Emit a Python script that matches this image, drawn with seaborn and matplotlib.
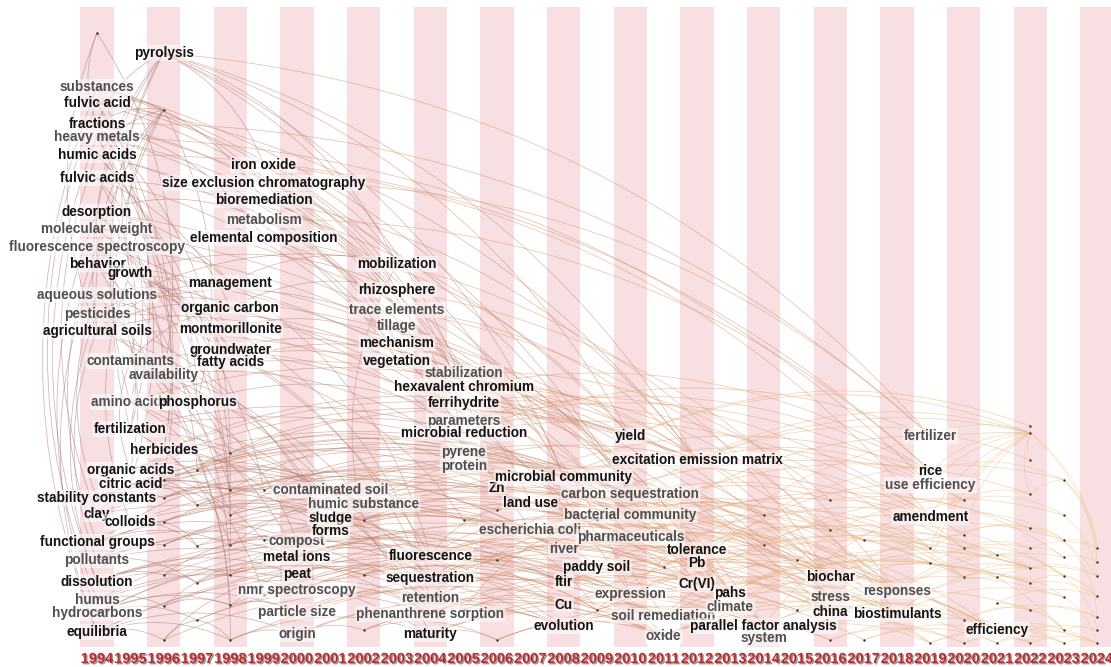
import matplotlib
matplotlib.use("Agg")
import matplotlib.pyplot as plt
from matplotlib import patheffects
import seaborn as sns
import pandas as pd

# timeline columns
years = list(range(1994, 2025))

# labelled keywords: text, year column, vertical position (px from top), dark (1) or grey (0)
kw_labels = [
    "substances", "fulvic acid", "fractions", "heavy metals", "humic acids",
    "fulvic acids", "desorption", "molecular weight", "fluorescence spectroscopy", "behavior",
    "aqueous solutions", "pesticides", "agricultural soils", "stability constants", "clay",
    "functional groups", "pollutants", "dissolution", "humus", "hydrocarbons",
    "equilibria", "growth", "contaminants", "amino acids", "fertilization",
    "organic acids", "citric acid", "colloids", "pyrolysis", "availability",
    "herbicides", "phosphorus", "management", "organic carbon", "montmorillonite",
    "groundwater", "fatty acids", "iron oxide", "size exclusion chromatography", "bioremediation",
    "metabolism", "elemental composition", "compost", "metal ions", "peat",
    "nmr spectroscopy", "particle size", "origin", "contaminated soil", "sludge",
    "forms", "humic substance", "mobilization", "rhizosphere", "trace elements",
    "tillage", "mechanism", "vegetation", "fluorescence", "sequestration",
    "retention", "phenanthrene sorption", "maturity", "stabilization", "hexavalent chromium",
    "ferrihydrite", "parameters", "microbial reduction", "pyrene", "protein",
    "Zn", "land use", "escherichia coli", "microbial community", "river",
    "ftir", "Cu", "evolution", "paddy soil", "yield",
    "carbon sequestration", "bacterial community", "pharmaceuticals", "expression", "soil remediation",
    "oxide", "excitation emission matrix", "tolerance", "Pb", "Cr(VI)",
    "pahs", "climate", "parallel factor analysis", "system", "biochar",
    "stress", "china", "responses", "biostimulants", "fertilizer",
    "rice", "use efficiency", "amendment", "efficiency",
]
kw_years = [
    1994, 1994, 1994, 1994, 1994, 1994, 1994, 1994, 1994, 1994,
    1994, 1994, 1994, 1994, 1994, 1994, 1994, 1994, 1994, 1994,
    1994, 1995, 1995, 1995, 1995, 1995, 1995, 1995, 1996, 1996,
    1996, 1997, 1998, 1998, 1998, 1998, 1998, 1999, 1999, 1999,
    1999, 1999, 2000, 2000, 2000, 2000, 2000, 2000, 2001, 2001,
    2001, 2002, 2003, 2003, 2003, 2003, 2003, 2003, 2004, 2004,
    2004, 2004, 2004, 2005, 2005, 2005, 2005, 2005, 2005, 2005,
    2006, 2007, 2007, 2008, 2008, 2008, 2008, 2008, 2009, 2010,
    2010, 2010, 2010, 2010, 2011, 2011, 2012, 2012, 2012, 2012,
    2013, 2013, 2014, 2014, 2016, 2016, 2016, 2018, 2018, 2019,
    2019, 2019, 2019, 2021,
]
kw_ys = [
    87, 103, 124, 137, 155, 178, 212, 229, 247, 264,
    295, 314, 331, 498, 514, 542, 560, 582, 600, 613,
    632, 273, 361, 402, 429, 470, 484, 522, 53, 375,
    450, 402, 283, 308, 329, 350, 362, 165, 183, 200,
    220, 238, 541, 557, 574, 590, 612, 634, 490, 518,
    531, 504, 264, 290, 310, 326, 343, 361, 556, 578,
    598, 614, 634, 373, 387, 403, 421, 433, 452, 466,
    488, 503, 530, 477, 549, 582, 605, 626, 567, 436,
    494, 515, 537, 594, 616, 636, 460, 550, 563, 584,
    593, 607, 626, 638, 577, 597, 612, 591, 614, 436,
    471, 485, 517, 630,
]
kw_dark = [
    0, 1, 1, 0, 1, 1, 1, 0, 0, 1,
    0, 0, 1, 1, 1, 1, 0, 1, 0, 0,
    1, 1, 0, 0, 1, 1, 1, 1, 1, 0,
    1, 1, 1, 1, 1, 1, 1, 1, 1, 1,
    0, 1, 0, 1, 1, 0, 0, 0, 0, 1,
    1, 0, 1, 1, 0, 0, 1, 1, 1, 1,
    0, 0, 1, 0, 1, 1, 0, 1, 0, 0,
    1, 1, 0, 1, 0, 1, 1, 1, 1, 1,
    0, 0, 0, 0, 0, 0, 1, 1, 1, 1,
    1, 0, 1, 0, 1, 0, 1, 0, 1, 0,
    1, 0, 1, 1,
]

# unlabelled nodes (small dots), indices 104..186
dot_years = [
    1994, 1996,                                      # 104-105
    1996, 1996, 1996, 1996, 1996, 1996, 1996,        # 106-112
    1997, 1997, 1997, 1997, 1997,                    # 113-117
    1998, 1998, 1998, 1998, 1998, 1998, 1998,        # 118-124
    1999, 1999, 1999,                                # 125-127
    2002, 2002, 2002,                                # 128-130
    2005, 2005,                                      # 131-132
    2006, 2006, 2006,                                # 133-135
    2009, 2009,                                      # 136-137
    2011, 2011,                                      # 138-139
    2014, 2014,                                      # 140-141
    2015, 2015,                                      # 142-143
    2016, 2016, 2016,                                # 144-146
    2017, 2017,                                      # 147-148
    2019, 2019, 2019,                                # 149-151
    2020, 2020, 2020, 2020, 2020, 2020,              # 152-157
    2021, 2021, 2021, 2021,                          # 158-161
    2022, 2022, 2022, 2022, 2022, 2022, 2022, 2022, 2022, 2022,  # 162-171
    2023, 2023, 2023, 2023, 2023, 2023, 2023, 2023,  # 172-179
    2024, 2024, 2024, 2024, 2024, 2024, 2024,        # 180-186
]
dot_ys = [
    33, 110,
    480, 498, 522, 545, 575, 606, 640,
    470, 505, 546, 583, 620,
    453, 490, 515, 545, 575, 605, 640,
    490, 540, 595,
    520, 575, 630,
    520, 610,
    510, 560, 640,
    520, 610,
    567, 635,
    515, 545,
    560, 610,
    500, 530, 640,
    540, 640,
    548, 563, 643,
    500, 535, 548, 577, 620, 643,
    555, 577, 603, 643,
    426, 433, 460, 494, 528, 548, 568, 583, 610, 643,
    480, 515, 540, 557, 576, 597, 630, 643,
    548, 562, 576, 596, 617, 630, 643,
]

# co-occurrence links between nodes (indices into keywords + dots)
edges = [
    (104, 2), (104, 12), (104, 29), (105, 1), (105, 2), (105, 4), (105, 9), (105, 31),
    (105, 21), (105, 24), (105, 12),
    (28, 9), (28, 12), (28, 21), (28, 2), (28, 37), (28, 52), (28, 79), (28, 86),
    (28, 99), (28, 73), (28, 64), (28, 23),
    (1, 38), (1, 53), (1, 64), (1, 86), (2, 41), (2, 54), (2, 80), (2, 99), (0, 39),
    (0, 73), (3, 56), (3, 63), (4, 57), (4, 65), (4, 100), (5, 33), (5, 67), (5, 79),
    (6, 40), (6, 32), (7, 32), (8, 34), (9, 36), (11, 55), (12, 57), (10, 33), (21, 53),
    (21, 35), (29, 6), (31, 4), (31, 7), (24, 8), (23, 3), (22, 5), (30, 2), (25, 9), (26, 1),
    (20, 0), (17, 3), (19, 6), (15, 8), (13, 10), (16, 12), (14, 4), (18, 1), (20, 9), (17, 11),
    (27, 21), (25, 22),
    (2, 118), (4, 119), (6, 120), (8, 113), (3, 106), (5, 121), (7, 125), (1, 30), (0, 24),
    (6, 87), (7, 88), (8, 81), (9, 82), (10, 94), (11, 95), (12, 96), (21, 89), (32, 90),
    (33, 83), (34, 84), (35, 92), (36, 97), (37, 102), (38, 99), (39, 86), (40, 100),
    (41, 79), (3, 101), (0, 80),
    (37, 52), (38, 53), (39, 54), (40, 56), (41, 57), (37, 65), (38, 67), (39, 63), (41, 64),
    (32, 58), (33, 72), (34, 59), (35, 60), (36, 131), (52, 128), (53, 73), (54, 86),
    (55, 80), (56, 87), (57, 71), (63, 94), (65, 102), (66, 100), (40, 68), (32, 52),
    (33, 53), (34, 56), (35, 57), (36, 63), (12, 32), (12, 33), (10, 34), (9, 35), (21, 36),
    (22, 33), (11, 52),
    (52, 94), (53, 97), (54, 98), (55, 83), (56, 90), (57, 92), (63, 144), (64, 145),
    (65, 149), (66, 152), (67, 153), (68, 140), (69, 141),
    (13, 48), (14, 49), (15, 42), (16, 43), (17, 44), (18, 45), (19, 46), (20, 47), (25, 51),
    (26, 50), (27, 58), (24, 59), (30, 60), (23, 61), (22, 62), (29, 64), (31, 66),
    (106, 73), (107, 72), (108, 71), (109, 74), (110, 75), (111, 76), (112, 77), (113, 80),
    (114, 81), (115, 82), (116, 83), (117, 84), (118, 86), (119, 87), (120, 88), (121, 89),
    (122, 90), (123, 91), (124, 92), (125, 94), (126, 95), (127, 96),
    (13, 107), (15, 108), (17, 110), (20, 112), (25, 113), (26, 114), (27, 115), (30, 118),
    (16, 116), (19, 117), (12, 118), (22, 119), (23, 120), (24, 121), (9, 122), (11, 123),
    (10, 124), (14, 106), (18, 111), (13, 119), (15, 121), (17, 122), (19, 123), (20, 124),
    (16, 109), (26, 120), (27, 125), (25, 126), (24, 127), (30, 125), (29, 48), (31, 51),
    (22, 42), (23, 43), (12, 49), (11, 50), (10, 58), (106, 114), (108, 115), (110, 116),
    (112, 117), (107, 119), (111, 123), (113, 118), (116, 122), (117, 124),
    (13, 58), (14, 59), (15, 60), (16, 61), (17, 62), (18, 58), (19, 59), (20, 60),
    (13, 72), (14, 73), (15, 74), (16, 75), (17, 76), (18, 77), (19, 78), (20, 83),
    (25, 80), (26, 81), (27, 82), (30, 86), (24, 87), (23, 79), (22, 67), (29, 68),
    (106, 48), (107, 51), (108, 49), (109, 50), (110, 42), (111, 43), (112, 44),
    (113, 51), (114, 58), (115, 59), (116, 60), (117, 61),
    (118, 67), (119, 68), (120, 69), (121, 70), (122, 71), (123, 72), (124, 62),
    (125, 73), (126, 74), (127, 75), (15, 94), (17, 96), (25, 86), (13, 80), (30, 79), (24, 73),
    (48, 73), (49, 71), (50, 74), (51, 80), (42, 75), (43, 78), (44, 83), (45, 84), (46, 85),
    (47, 77), (58, 87), (59, 88), (60, 89), (61, 90), (62, 92), (64, 86), (67, 79), (68, 81),
    (69, 82), (70, 100), (71, 94), (72, 95), (74, 96), (75, 97), (76, 98), (77, 93), (78, 99),
    (85, 103), (88, 101), (89, 102), (90, 150), (91, 151), (92, 152), (93, 157),
    (42, 76), (43, 77), (44, 78), (45, 83), (46, 84), (47, 85), (48, 80), (49, 81), (50, 82),
    (51, 86), (58, 88), (59, 89), (60, 90), (61, 91), (62, 93), (58, 138), (59, 137),
    (60, 139), (61, 136), (42, 97), (45, 98),
    (128, 136), (129, 137), (130, 139), (131, 140), (132, 143), (133, 141), (134, 142),
    (135, 146), (136, 147), (137, 148), (138, 145), (139, 161),
    (128, 74), (129, 75), (130, 77), (131, 78), (132, 76), (133, 87), (134, 88), (135, 85),
    (128, 133), (129, 134), (130, 135), (131, 137), (132, 136), (133, 138), (134, 139),
    (135, 139), (136, 140), (137, 141), (58, 136), (59, 138), (61, 137), (62, 139), (60, 134),
    (48, 97), (51, 98), (58, 94), (59, 100), (42, 102), (43, 103), (42, 128), (44, 129),
    (47, 130), (49, 131), (60, 132), (58, 133), (59, 134), (62, 135), (45, 61), (46, 60),
    (43, 58), (50, 59), (125, 48), (126, 43), (127, 45), (119, 51), (120, 49), (121, 42),
    (122, 44), (123, 46), (124, 47), (118, 69), (106, 70), (107, 80), (109, 72), (114, 71),
    (113, 68),
    (70, 87), (71, 88), (72, 89), (73, 86), (74, 90), (75, 91), (76, 92), (77, 93), (78, 87),
    (80, 94), (81, 95), (82, 96), (83, 97), (84, 98), (85, 92), (87, 102), (88, 97), (89, 98),
    (90, 103), (70, 92), (71, 93), (72, 90), (73, 91), (74, 88), (75, 89), (76, 94),
    (77, 95), (78, 96), (80, 97), (81, 98), (82, 103),
    (72, 149), (73, 152), (80, 154), (81, 155), (82, 156), (83, 158), (84, 159), (86, 163),
    (79, 163), (99, 163), (100, 163), (101, 163), (102, 163), (149, 163), (150, 163),
    (153, 163), (164, 163), (165, 163), (162, 163), (80, 163), (87, 163),
    (94, 168), (97, 168), (98, 168), (87, 168), (155, 168), (158, 168), (168, 182), (168, 183),
    (163, 180), (163, 181), (172, 180), (174, 184), (176, 185), (177, 186), (170, 184),
    (166, 182), (140, 172), (141, 173), (142, 174), (143, 177), (144, 175), (145, 176),
    (146, 179), (147, 178), (148, 171), (151, 186), (157, 186), (161, 185), (160, 183),
    (156, 184), (159, 182), (94, 97), (95, 98), (96, 103), (88, 95), (89, 96), (90, 94),
    (92, 98), (86, 101), (83, 140), (84, 142), (78, 144), (81, 145), (82, 147), (87, 149),
    (91, 150), (93, 151), (100, 172), (102, 174), (103, 178), (97, 175), (98, 177),
    (152, 173), (154, 176), (167, 180), (169, 183), (171, 186), (175, 181), (64, 100),
    (67, 99), (73, 102), (71, 97), (75, 103), (74, 155),
    (136, 144), (137, 143), (138, 142), (139, 146), (140, 149), (141, 150), (142, 152),
    (143, 153), (144, 154), (145, 155), (146, 157), (147, 158), (148, 161),
    (94, 149), (95, 150), (96, 151), (97, 158), (98, 159), (103, 171), (103, 179), (103, 186),
    (149, 166), (150, 167), (151, 171), (152, 165), (153, 166), (154, 167), (155, 169),
    (156, 170), (157, 171), (158, 176), (159, 177), (160, 178), (161, 179), (165, 172),
    (166, 174), (167, 175), (169, 176), (170, 178), (172, 181), (173, 182), (174, 180),
    (176, 183), (178, 185), (179, 186), (83, 168), (84, 169), (81, 165), (82, 166), (86, 164),
    (79, 162), (90, 168), (91, 169), (92, 170),
]

nodes = pd.DataFrame({
    "year": kw_years + dot_years,
    "y": kw_ys + dot_ys,
})
dots = pd.DataFrame({"year": dot_years, "y": dot_ys})

sns.set_theme(style="white")
plt.rcParams["font.family"] = ["Liberation Sans", "DejaVu Sans"]

fig = plt.figure(figsize=(11.11, 6.67), dpi=100)
ax = fig.add_axes([0, 0, 1, 1])

# pink bands on even years
even_years = [y for y in years if y % 2 == 0]
ax.bar(even_years, 640, bottom=7, width=1.0, color="#f7dfe2", linewidth=0, zorder=0)

# links, coloured by year of the link: old brown -> orange -> pale yellow
pal = sns.blend_palette(["#a06a66", "#d98e62", "#f1cf8c"], n_colors=len(years))
for a, b in edges:
    ka = (nodes.year[a], -nodes.y[a])
    kb = (nodes.year[b], -nodes.y[b])
    if ka > kb:
        a, b = b, a
    link_year = (nodes.year[a] + nodes.year[b]) // 2
    col = pal[link_year - years[0]]
    ax.annotate("", xy=(nodes.year[b], nodes.y[b]), xytext=(nodes.year[a], nodes.y[a]),
                arrowprops=dict(arrowstyle="-", connectionstyle="arc3,rad=-0.2",
                                color=col, lw=0.55, alpha=0.5, shrinkA=0, shrinkB=0),
                zorder=1)

sns.scatterplot(data=dots, x="year", y="y", s=3, color="#333333", linewidth=0,
                ax=ax, zorder=3, legend=False)

for lab, yr, yy, dk in zip(kw_labels, kw_years, kw_ys, kw_dark):
    ax.text(yr, yy, lab, ha="center", va="center", fontsize=9.8, fontweight="bold",
            color="#141414" if dk else "#4f4f4f", zorder=4,
            bbox=dict(boxstyle="round,pad=0.08", fc="white", ec="none", alpha=0.55))

for yr in years:
    ax.text(yr, 659, str(yr), ha="center", va="center", fontsize=10.5, fontweight="bold",
            color="#c0282d", zorder=4,
            path_effects=[patheffects.withSimplePatchShadow(offset=(1, -1),
                                                            shadow_rgbFace="#555555", alpha=0.6)])

ax.set_xlim(1991.09, 2024.42)
ax.set_ylim(667, 0)
ax.axis("off")

fig.savefig("out.png", dpi=100)
